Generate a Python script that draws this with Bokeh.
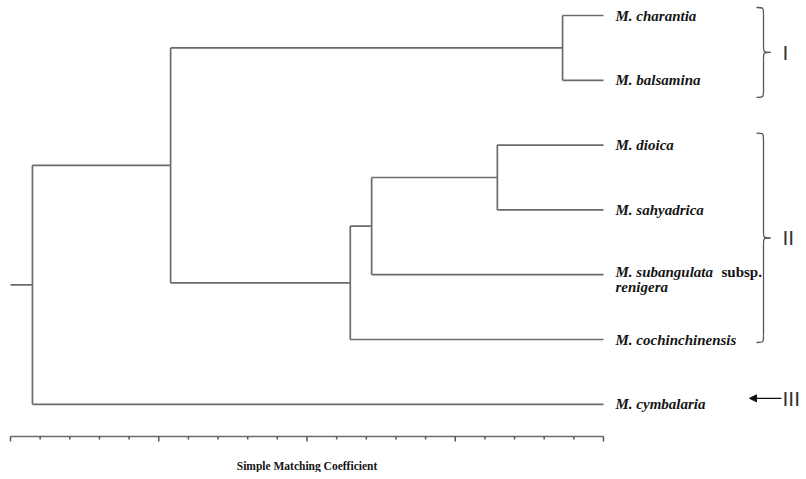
from bokeh.plotting import figure
from bokeh.models import Range1d, Arrow, NormalHead
from bokeh.core.properties import value
from bokeh.embed import file_html
from bokeh.resources import INLINE

# ---------------- data ----------------
leaves = ["M. charantia", "M. balsamina", "M. dioica", "M. sahyadrica",
          "M. subangulata", "M. cochinchinensis", "M. cymbalaria"]
# agglomeration: node ids 0-6 are leaves, each merge creates node 7, 8, ...
merge_left = [0, 2, 8, 9, 7, 11]
merge_right = [1, 3, 4, 5, 10, 6]
merge_similarity = [0.931, 0.821, 0.609, 0.573, 0.270, 0.037]
leaf_similarity = 1.0
root_start = 0.0
group_names = ["I", "II", "III"]
group_first = [0, 2, 6]
group_last = [1, 5, 6]
axis_ticks = [0.0, 0.05, 0.10, 0.15, 0.20, 0.25, 0.30, 0.35, 0.40, 0.45, 0.50,
              0.55, 0.60, 0.65, 0.70, 0.75, 0.80, 0.85, 0.90, 0.95, 1.0]
axis_major_ticks = [0.0, 0.25, 0.50, 0.75, 1.0]
axis_title = "Simple Matching Coefficient"

# ---------------- layout helpers (pixel -> data) ----------------
PX0, PX_PER_UNIT = 10.0, 593.0      # x pixel of 0 and pixels per unit
PY0, PY_PER_LEAF = 15.0, 64.8       # y pixel of first leaf and leaf spacing
def X(px):
    return (px - PX0) / PX_PER_UNIT
def Y(py):
    return (py - PY0) / PY_PER_LEAF
def DY(dpx):
    return dpx / PY_PER_LEAF

OFF = 0
W, H = 800, 472
p = figure(width=W, height=H, output_backend="svg", toolbar_location=None,
           x_range=Range1d(X(OFF), X(OFF + W)), y_range=Range1d(Y(OFF + H), Y(OFF)),
           x_axis_location=None, y_axis_location=None, min_border=0,
           background_fill_color="white", border_fill_color="white")
p.grid.visible = False
p.outline_line_color = None

# ---------------- dendrogram ----------------
node_x = [leaf_similarity] * len(leaves)
node_y = list(range(len(leaves)))
x0s, y0s, x1s, y1s = [], [], [], []
for a, b, h in zip(merge_left, merge_right, merge_similarity):
    ya, yb = node_y[a], node_y[b]
    x0s.append(h); y0s.append(ya); x1s.append(h); y1s.append(yb)
    x0s.append(h); y0s.append(ya); x1s.append(node_x[a]); y1s.append(ya)
    x0s.append(h); y0s.append(yb); x1s.append(node_x[b]); y1s.append(yb)
    node_x.append(h)
    node_y.append((ya + yb) / 2.0)
x0s.append(root_start); y0s.append(node_y[-1]); x1s.append(node_x[-1]); y1s.append(node_y[-1])
p.segment(x0s, y0s, x1s, y1s, line_color="#6b6b6b", line_width=1.7)

# ---------------- leaf labels ----------------
lab_x = X(615)
font = value("Liberation Serif")
fs = "15px"
main = [i for i in range(len(leaves)) if i != 4]
p.text(x=[lab_x] * len(main), y=[node_y[i] for i in main], text=[leaves[i] for i in main],
       text_font=font, text_font_style="bold italic", text_font_size=fs,
       text_color="#151515", text_baseline="middle", text_align="left")
# M. subangulata subsp. renigera (mixed styles, two lines)
p.text(x=[lab_x], y=[node_y[4]], text=[leaves[4]], y_offset=-3,
       text_font=font, text_font_style="bold italic", text_font_size=fs,
       text_color="#151515", text_baseline="middle", text_align="left")
p.text(x=[lab_x], y=[node_y[4]], text=["subsp."], y_offset=-3, x_offset=106,
       text_font=font, text_font_style="bold", text_font_size=fs,
       text_color="#151515", text_baseline="middle", text_align="left")
p.text(x=[lab_x], y=[node_y[4]], text=["renigera"], y_offset=12,
       text_font=font, text_font_style="bold italic", text_font_size=fs,
       text_color="#151515", text_baseline="middle", text_align="left")

# ---------------- braces and group numerals ----------------
brace_pad_top = [8, 12]
brace_pad_bottom = [17, 3]
x_tip, x_sp, x_pt = X(756), X(763), X(770)
r = DY(7)
bz = dict(x0=[], y0=[], x1=[], y1=[], cx0=[], cy0=[], cx1=[], cy1=[])
sx0, sy0, sx1, sy1 = [], [], [], []
num_x, num_y, num_t = [], [], []
def add_bez(a, b, c0, c1):
    bz["x0"].append(a[0]); bz["y0"].append(a[1])
    bz["x1"].append(b[0]); bz["y1"].append(b[1])
    bz["cx0"].append(c0[0]); bz["cy0"].append(c0[1])
    bz["cx1"].append(c1[0]); bz["cy1"].append(c1[1])
for g, (name, f, l) in enumerate(zip(group_names, group_first, group_last)):
    if g < len(brace_pad_top):
        T = f - DY(brace_pad_top[g])
        B = l + DY(brace_pad_bottom[g])
        M = (T + B) / 2.0
        add_bez((x_tip, T), (x_sp, T + r), (x_sp, T), (x_sp, T))
        sx0.append(x_sp); sy0.append(T + r); sx1.append(x_sp); sy1.append(M - r)
        add_bez((x_sp, M - r), (x_pt, M), (x_sp, M), (x_sp, M))
        add_bez((x_pt, M), (x_sp, M + r), (x_sp, M), (x_sp, M))
        sx0.append(x_sp); sy0.append(M + r); sx1.append(x_sp); sy1.append(B - r)
        add_bez((x_sp, B - r), (x_tip, B), (x_sp, B), (x_sp, B))
        num_x.append(X(782)); num_y.append(M); num_t.append(name)
    else:
        ya = f - DY(6)
        p.add_layout(Arrow(end=NormalHead(size=7, fill_color="#111111", line_color="#111111"),
                           x_start=X(781), y_start=ya, x_end=X(749), y_end=ya,
                           line_color="#111111", line_width=1.3))
        num_x.append(X(782)); num_y.append(ya); num_t.append(name)
p.bezier(line_color="#555555", line_width=1.3, **bz)
p.segment(sx0, sy0, sx1, sy1, line_color="#555555", line_width=1.3)
p.text(x=num_x, y=num_y, text=num_t, text_font=value("Liberation Sans"),
       text_font_size="21px", text_color="#333333", text_baseline="middle",
       text_align="left")

# ---------------- scale bar ----------------
ay = Y(436)
p.segment([axis_ticks[0]], [ay], [axis_ticks[-1]], [ay], line_color="#6b6b6b", line_width=1.5)
tick_len = [DY(5) if t in axis_major_ticks else DY(3) for t in axis_ticks]
p.segment(axis_ticks, [ay] * len(axis_ticks), axis_ticks,
          [ay + d for d in tick_len], line_color="#555555", line_width=1.5)
p.text(x=[(axis_ticks[0] + axis_ticks[-1]) / 2.0], y=[Y(465)], text=[axis_title],
       text_font=font, text_font_style="bold", text_font_size="11.5px",
       text_color="#151515", text_baseline="middle", text_align="center")

open("out.html", "w").write(file_html(p, INLINE))
